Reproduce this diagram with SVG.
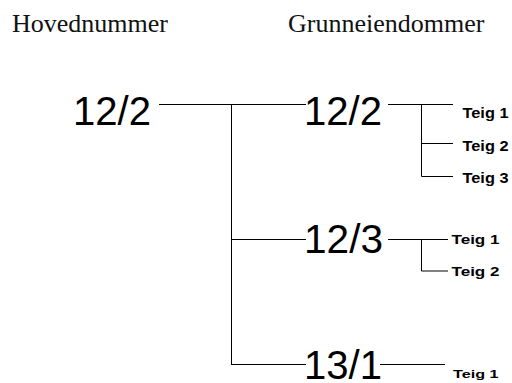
<svg xmlns="http://www.w3.org/2000/svg" width="512" height="383" viewBox="0 0 512 383">
<style>
.hdr{font-family:"Liberation Serif","Times New Roman",serif;font-size:26px;fill:#111}
.num{font-family:"Liberation Sans",Arial,sans-serif;font-size:40px;fill:#000}
.teig{font-family:"Liberation Sans",Arial,sans-serif;font-weight:bold;font-size:14px;fill:#000}
.ln{stroke:#000;stroke-width:1;fill:none}
</style>
<rect width="512" height="383" fill="#fff"/>
<g id="headers">
<text class="hdr" x="12" y="32">Hovednummer</text>
<text class="hdr" x="288" y="32">Grunneiendommer</text>
</g>
<g id="connectors">
<path class="ln" d="M159 104.5H306M231.5 104.5V365M231.5 239.5H306M231.5 364.5H306"/>
<path class="ln" d="M388 104.5H453M421.5 104.5V176.5H453M421.5 143.5H453"/>
<path class="ln" d="M388 239.5H448M421.5 239.5V271H448"/>
<path class="ln" d="M380 364.5H445"/>
</g>
<g id="n-12-2-main"><text class="num" x="73" y="124.5" textLength="78" lengthAdjust="spacingAndGlyphs">12/2</text></g>
<g id="n-12-2"><text class="num" x="304" y="125" textLength="78" lengthAdjust="spacingAndGlyphs">12/2</text></g>
<g id="n-12-3"><text class="num" x="304" y="252.5" textLength="79" lengthAdjust="spacingAndGlyphs">12/3</text></g>
<g id="n-13-1"><text class="num" x="304" y="379" textLength="78" lengthAdjust="spacingAndGlyphs">13/1</text></g>
<g id="t-12-2-1"><text class="teig" x="462.5" y="118" textLength="46" lengthAdjust="spacingAndGlyphs">Teig 1</text></g>
<g id="t-12-2-2"><text class="teig" x="462.5" y="150.5" textLength="46" lengthAdjust="spacingAndGlyphs">Teig 2</text></g>
<g id="t-12-2-3"><text class="teig" x="462.5" y="183" textLength="46" lengthAdjust="spacingAndGlyphs">Teig 3</text></g>
<g id="t-12-3-1"><text class="teig" x="451.5" y="243.5" style="font-size:13px" textLength="48" lengthAdjust="spacingAndGlyphs">Teig 1</text></g>
<g id="t-12-3-2"><text class="teig" x="451.5" y="275.5" style="font-size:13px" textLength="48" lengthAdjust="spacingAndGlyphs">Teig 2</text></g>
<g id="t-13-1-1"><text class="teig" x="453" y="377.5" style="font-size:11.5px" textLength="45.5" lengthAdjust="spacingAndGlyphs">Teig 1</text></g>
</svg>
